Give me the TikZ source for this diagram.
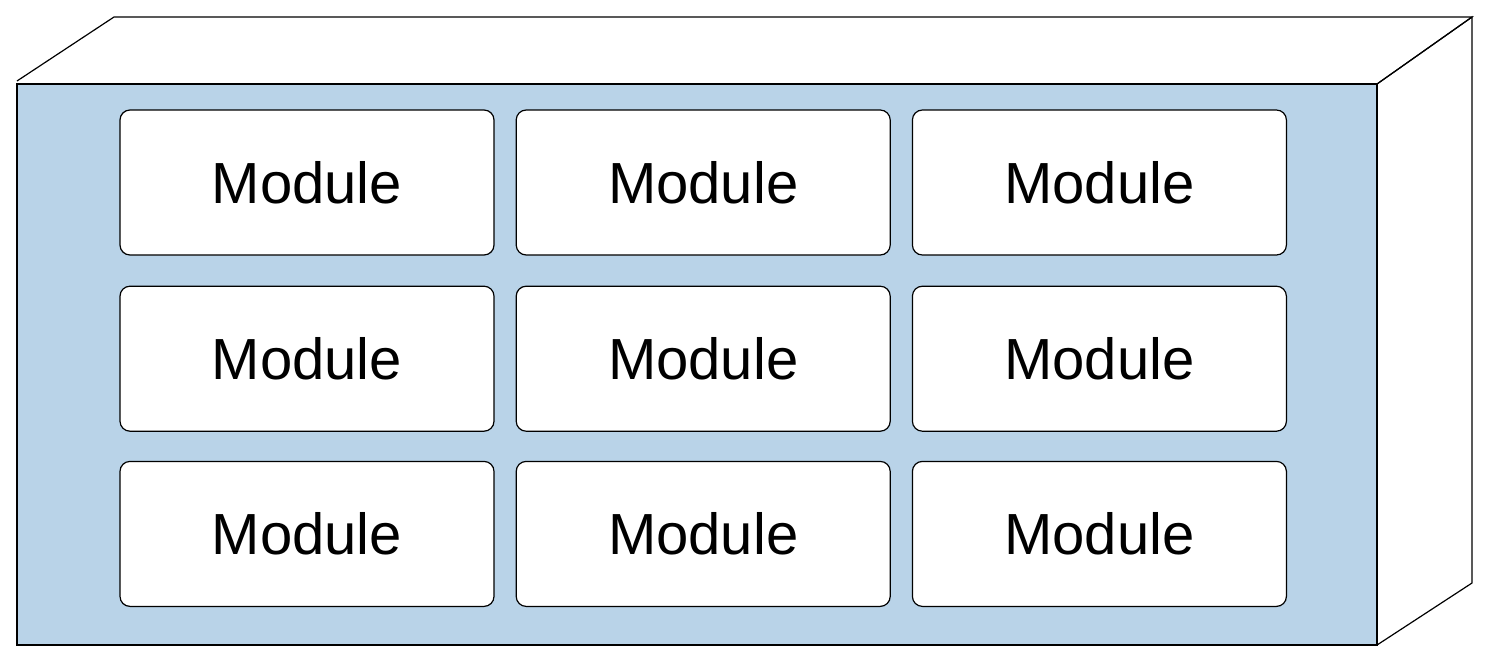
\documentclass[tikz,border=0pt]{standalone}
\usepackage{fontspec}
\setmainfont{Liberation Sans}
\usepackage{tikz}
\usetikzlibrary{positioning}
\definecolor{panelblue}{RGB}{185,211,232}
\tikzset{
	face/.style = {draw=black, line width=0.6pt, line join=miter},
	front/.style = {face, fill=panelblue},
	module/.style = {rectangle, rounded corners=5pt, draw=black, fill=white,
		line width=0.6pt, minimum width=187pt, minimum height=72.5pt,
		inner sep=0pt, font=\fontsize{29}{34}\selectfont}
}
\begin{document}
\begin{tikzpicture}[x=0.5pt,y=-0.5pt]
\useasboundingbox (0,0) rectangle (1486,664);
% box
\draw [face] (17,81) -- (114,17) -- (1472,17) -- (1377,84);
\draw [face] (1377,84) -- (1472,17) -- (1472,583) -- (1377,645);
\draw [front] (17,84) rectangle (1377,645);
% modules
\node [module] (m11) at (307,182.5) {Module};
\node [module, right=10.5pt of m11] (m12) {Module};
\node [module, right=10.5pt of m12] (m13) {Module};
\node [module, below=15pt of m11] (m21) {Module};
\node [module, right=10.5pt of m21] (m22) {Module};
\node [module, right=10.5pt of m22] (m23) {Module};
\node [module, below=14.5pt of m21] (m31) {Module};
\node [module, right=10.5pt of m31] (m32) {Module};
\node [module, right=10.5pt of m32] (m33) {Module};
\end{tikzpicture}
\end{document}
